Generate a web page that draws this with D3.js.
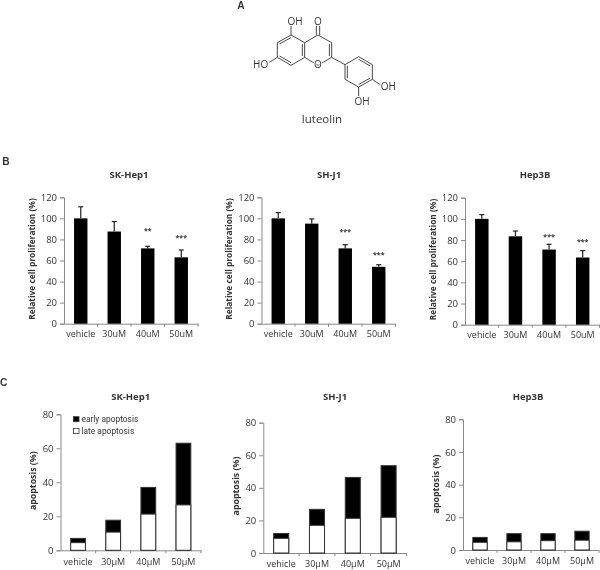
<!DOCTYPE html>
<html><head><meta charset="utf-8">
<script src="https://cdn.jsdelivr.net/npm/d3@7/dist/d3.min.js"></script>
<style>
html,body{margin:0;padding:0;background:#fff}
svg{display:block;filter:blur(0.3px)}
text{font-family:"Open Sans","Noto Sans",sans-serif;fill:#333}
</style></head><body>
<svg id="c" width="600" height="570"></svg>
<script>
// ---- data ----
const prolifCats = ["vehicle","30uM","40uM","50uM"];
const apopCats = ["vehicle","30μM","40μM","50μM"];
const prolifTicks = [0,20,40,60,80,100,120];
const apopTicks = [0,20,40,60,80];

const skProlif = [100,87.5,71.5,63];
const skProlifErr = [111,97,73.5,70];
const skStars = ["","","**","***"];
const skStarLevel = [0,0,89,82.6];

const shProlif = [100,95,71.5,54];
const shProlifErr = [105.5,99.5,75,56];
const shStars = ["","","***","***"];
const shStarLevel = [0,0,88.3,66.8];

const hepProlif = [100,83.5,71,63.5];
const hepProlifErr = [104,88.5,76,70];
const hepStars = ["","","***","***"];
const hepStarLevel = [0,0,84.7,79.4];

const skLate = [4.5,10.7,21.3,26.7];
const skTotal = [7,17.7,37,63];
const shLate = [9,17,21.3,21.9];
const shTotal = [12,26.8,46.4,53.6];
const hepLate = [4.7,5,5.7,6];
const hepTotal = [7.7,10,10,11.5];

const legendLabels = ["early apoptosis","late apoptosis"];

// molecule: skeleton atom positions in drawing units, and bonds between them
const molAtoms = {a:[213,105],b:[172,128],c:[172,172],d:[213,196],e:[254,172],f:[254,128],
  g:[294,105],h:[335,128],i:[335,172],o:[294,196],co:[294,78],
  p:[375,194],q:[416,170],r:[457,194],s:[457,238],t:[416,261],u:[375,238],
  oh5:[213,78],oh7:[148,187],ohr:[482,255],ohb:[416,290]};
const molSingle = [["a","f"],["a","b"],["b","c"],["c","d"],["d","e"],["e","f"],["f","g"],["g","h"],["h","i"],
  ["i","o"],["o","e"],["i","p"],["p","q"],["q","r"],["r","s"],["s","t"],["t","u"],["u","p"],
  ["a","oh5"],["c","oh7"],["s","ohr"],["t","ohb"]];
const molInner = [["a","b",[213,150]],["c","d",[213,150]],["e","f",[213,150]],["h","i",[295,150]],
  ["u","p",[416,216]],["q","r",[416,216]],["s","t",[416,216]]];
const molLabels = [["OH",225,63],["O",294,63],["HO",122,194],["O",294,194],["OH",505,260],["OH",426,304]];

// ---- drawing ----
const svg = d3.select("#c");
const AX = "#8a8a8a";

function frame(o){
  const g = svg.append("g");
  const x = d3.scaleBand().domain(o.cats).range([o.x0,o.x1]).paddingInner(o.pad).paddingOuter(o.pad/2);
  const y = d3.scaleLinear().domain([0,o.max]).range([o.y0,o.y1]);
  const ay = g.append("g").attr("transform",`translate(${o.x0},0)`).call(d3.axisLeft(y).tickValues(o.ticks).tickSize(4).tickPadding(3));
  const ax = g.append("g").attr("transform",`translate(0,${o.y0})`).call(d3.axisBottom(x).tickSize(0).tickPadding(o.xpad));
  [ay,ax].forEach(a=>{a.selectAll("path,line").attr("stroke",AX).attr("stroke-width",1);
    a.selectAll("text").attr("font-size",9).attr("font-family",'"Open Sans",sans-serif').attr("fill","#333");});
  ay.selectAll("text").attr("font-size",9.5);
  g.selectAll("line.b").data(d3.range(1,o.cats.length+1)).join("line").attr("class","b")
    .attr("x1",i=>o.x0+i*x.step()).attr("x2",i=>o.x0+i*x.step()).attr("y1",o.y0).attr("y2",o.y0+3)
    .attr("stroke",AX);
  g.append("text").attr("x",o.tx).attr("y",o.ty).attr("text-anchor","middle").attr("font-weight",700).attr("font-size",9.5).attr("dy","0.35em").text(o.title);
  g.append("text").attr("transform",`translate(${o.lx},${o.ly}) rotate(-90)`).attr("text-anchor","middle").attr("font-weight",700).attr("font-size",o.lsize).attr("dy","0.35em").text(o.label);
  return {g,x,y};
}

function prolif(o,vals,errs,stars,levels){
  const {g,x,y} = frame({...o,cats:prolifCats,max:120,ticks:prolifTicks,pad:0.6,label:"Relative cell proliferation (%)",lsize:8.4,xpad:7});
  const c = i=>x(prolifCats[i])+x.bandwidth()/2;
  g.selectAll("rect.v").data(vals).join("rect").attr("class","v")
    .attr("x",(d,i)=>x(prolifCats[i])).attr("width",x.bandwidth())
    .attr("y",d=>y(d)).attr("height",d=>y(0)-y(d)).attr("fill","#000");
  g.selectAll("line.e").data(errs).join("line").attr("class","e")
    .attr("x1",(d,i)=>c(i)).attr("x2",(d,i)=>c(i)).attr("y1",(d,i)=>y(vals[i])).attr("y2",d=>y(d)).attr("stroke","#222").attr("stroke-width",1.2);
  g.selectAll("line.cap").data(errs).join("line").attr("class","cap")
    .attr("x1",(d,i)=>c(i)-2.5).attr("x2",(d,i)=>c(i)+2.5).attr("y1",d=>y(d)).attr("y2",d=>y(d)).attr("stroke","#222").attr("stroke-width",1.2);
  g.selectAll("text.s").data(stars).join("text").attr("class","s")
    .attr("x",(d,i)=>c(i)).attr("y",(d,i)=>y(levels[i])).attr("dy","0.5em").attr("text-anchor","middle")
    .attr("font-size",7).attr("font-weight",700).text(d=>d);
}

function apop(o,late,total){
  const {g,x,y} = frame({...o,cats:apopCats,max:80,ticks:apopTicks,pad:0.58,label:"apoptosis (%)",lsize:8.8,xpad:8});
  g.selectAll("rect.t").data(total).join("rect").attr("class","t")
    .attr("x",(d,i)=>x(apopCats[i])).attr("width",x.bandwidth())
    .attr("y",d=>y(d)).attr("height",d=>y(0)-y(d)).attr("fill","#000").attr("stroke","#333");
  g.selectAll("rect.l").data(late).join("rect").attr("class","l")
    .attr("x",(d,i)=>x(apopCats[i])).attr("width",x.bandwidth())
    .attr("y",d=>y(d)).attr("height",d=>y(0)-y(d)).attr("fill","#fff").attr("stroke","#333");
  return g;
}

prolif({x0:64,x1:198,y0:323.7,y1:197.3,tx:129,ty:174.7,title:"SK-Hep1",lx:31.7,ly:259},skProlif,skProlifErr,skStars,skStarLevel);
prolif({x0:261.5,x1:395.5,y0:323.7,y1:197.3,tx:329,ty:174.7,title:"SH-J1",lx:229,ly:259},shProlif,shProlifErr,shStars,shStarLevel);
prolif({x0:465,x1:599.5,y0:324.7,y1:197.7,tx:535,ty:174.7,title:"Hep3B",lx:433,ly:259.5},hepProlif,hepProlifErr,hepStars,hepStarLevel);

const ag = apop({x0:60.5,x1:201,y0:550.3,y1:414.3,tx:130.7,ty:397,title:"SK-Hep1",lx:33,ly:480.7},skLate,skTotal);
apop({x0:263.3,x1:406.5,y0:553,y1:422.7,tx:335,ty:397,title:"SH-J1",lx:236,ly:486},shLate,shTotal);
apop({x0:463,x1:599,y0:550,y1:419.3,tx:528,ty:397,title:"Hep3B",lx:436,ly:484},hepLate,hepTotal);

// legend
const lg = ag.append("g");
lg.selectAll("rect").data(legendLabels).join("rect")
  .attr("x",73.5).attr("y",(d,i)=>416.7+i*11.8).attr("width",5.5).attr("height",5)
  .attr("fill",(d,i)=>i?"#fff":"#000").attr("stroke","#333").attr("stroke-width",.8);
lg.selectAll("text").data(legendLabels).join("text")
  .attr("x",81.5).attr("y",(d,i)=>419+i*11.8).attr("dy","0.35em").attr("font-size",8.4).style("font-family","Roboto, sans-serif").text(d=>d);

// panel letters
[["A",241,5.4],["B",6,161],["C",3.8,382.7]].forEach(([t,x,y])=>
  svg.append("text").attr("x",x).attr("y",y).attr("dy","0.35em").attr("text-anchor","middle").attr("font-weight",700).attr("font-size",10.2).style("font-family",'"Liberation Sans",sans-serif').attr("fill","#111").text(t));

// luteolin
const mx = d3.scaleLinear().domain([0,600]).range([220,420]);
const my = d3.scaleLinear().domain([0,420]).range([0,140]);
const mol = svg.append("g");
const seg = (a,b)=>mol.append("line").attr("x1",mx(a[0])).attr("y1",my(a[1])).attr("x2",mx(b[0])).attr("y2",my(b[1])).attr("stroke","#333").attr("stroke-width",.9);
molSingle.forEach(([a,b])=>seg(molAtoms[a],molAtoms[b]));
molInner.forEach(([a,b,c])=>{
  const sh = p=>[p[0]+(c[0]-p[0])*0.17,p[1]+(c[1]-p[1])*0.17];
  seg(sh(molAtoms[a]),sh(molAtoms[b]));
});
const cg = molAtoms.g, co = molAtoms.co;
seg([cg[0]-5,cg[1]],[co[0]-5,co[1]]); seg([cg[0]+5,cg[1]],[co[0]+5,co[1]]);
mol.selectAll("text").data(molLabels).join("text")
  .attr("x",d=>mx(d[1])).attr("y",d=>my(d[2])).attr("dy","0.35em").attr("text-anchor","middle")
  .attr("font-size",10).attr("stroke","#fff").attr("stroke-width",2).attr("paint-order","stroke").text(d=>d[0]);
svg.append("text").attr("x",322).attr("y",118.7).attr("dy","0.35em").attr("text-anchor","middle").attr("font-size",11.5).text("luteolin");
</script></body></html>
